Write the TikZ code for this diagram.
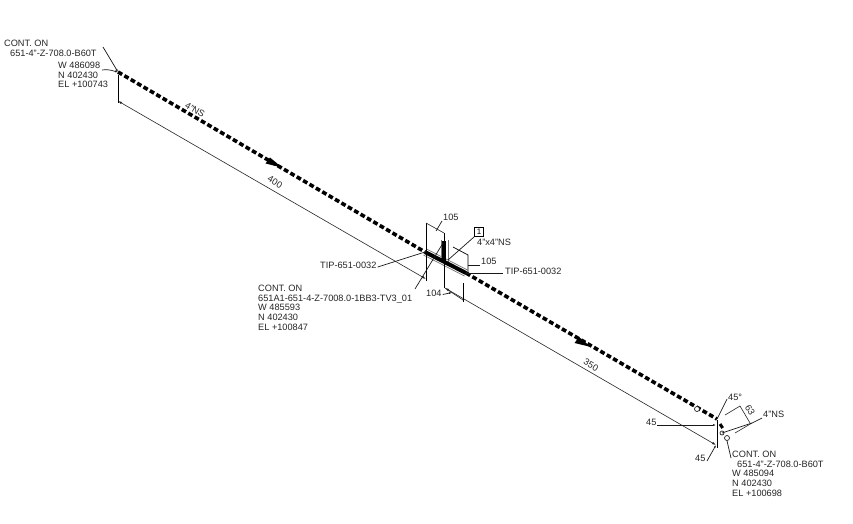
\documentclass[tikz,border=0pt]{standalone}
\usepackage{fontspec}
\setmainfont{Liberation Sans}
\usetikzlibrary{arrows.meta}
\tikzset{
 x=1pt,y=-1pt,
 lbl/.style={inner sep=0pt,font=\fontsize{9.2}{9.6}\selectfont,text=black!85,align=left,anchor=north west},
 dimline/.style={line width=0.6pt,black!85},
 leader/.style={line width=0.7pt,black!90},
 tick/.style={line width=1pt,black},
 pipe/.style={line width=3.6pt,black,dash pattern=on 4.8pt off 2.6pt},
 heavy/.style={line width=4pt,black},
 jacket/.style={line width=0.7pt,black!55},
 flow/.style={fill=black,draw=none},
 fit4/.style={draw=black!85,line width=0.7pt,fill=white,circle,inner sep=0pt,minimum size=5pt},
 tag/.style={draw=black,line width=0.8pt,inner sep=0pt,minimum size=8.5pt,font=\fontsize{8}{8}\selectfont}
}
\begin{document}
\begin{tikzpicture}
\useasboundingbox (0,0) rectangle (853,523);
\fill[white] (0,0) rectangle (853,523);
% key points
\coordinate (start) at (118,72);
\coordinate (teeL) at (425,252);
\coordinate (teeR) at (466,273);
\coordinate (finish) at (717,419);
\coordinate (teeM) at (444,262);
\coordinate (teeT) at (444,241);
% main pipe
\draw[pipe] (start) -- (teeL);
\draw[pipe] (teeR) -- (finish);
\draw[pipe,line width=3pt] (finish) ++(3,5) coordinate (p2) -- ++(4,6) coordinate (p3);
\draw[jacket] (426.5,249) -- (467.5,270);
\draw[jacket] (423.5,255) -- (464.5,276);
\draw[jacket] (441,262) -- (441,240);
\draw[jacket] (448,264) -- (448,240);
\draw[heavy] (teeL) -- (teeR);
\draw[heavy] (teeM) -- (teeT);
% flow arrows
\coordinate (fa1) at (282,167.5);
\coordinate (fa2) at (591,347);
\fill[flow] (fa1) -- ++(-16.5,-4) -- ++(4.5,-6) -- cycle;
\fill[flow] (fa2) -- ++(-16.5,-4) -- ++(4.5,-6) -- cycle;
% dimensions
\coordinate (d1a) at (118,101);
\coordinate (d1b) at (426,279);
\coordinate (d2a) at (445,288);
\coordinate (d2b) at (716,445);
\draw[dimline,{Latex[length=4pt,width=2.5pt]}-{Latex[length=4pt,width=2.5pt]}] (d1a) -- (d1b);
\draw[dimline,{Latex[length=4pt,width=2.5pt]}-{Latex[length=4pt,width=2.5pt]}] (d2a) -- (d2b);
\draw[tick] (118,75) -- (118,103);
\draw[tick] (426,223) -- (426,281);
\draw[tick] (444,233) -- (444,288);
\draw[tick] (463,283) -- (463,302);
\draw[tick] (717,420) -- (717,448);
\draw[dimline] (426,223) -- (444,233);
\draw[dimline] (445,288) -- (463,300);
\draw[tick,line width=.7pt] (453,247) -- (468,255) -- (468,273);
\node[lbl,anchor=west] (n105a) at (443,217) {105};
\node[lbl,anchor=west] (n105b) at (481,261) {105};
\node[lbl,anchor=west] (n104) at (426,293) {104};
\draw[leader] (436,231) -- (442,221);
\draw[leader] (468,265) -- (480,265);
\draw[leader,-{Latex[length=3pt,width=2pt]}] (n104.east) ++(1,1.5) -- (452,292.5);
% labels on lines
\node[lbl,anchor=center,rotate=-30] (ns1) at (195,110) {4"NS};
\node[lbl,anchor=center,rotate=-30] (d400) at (275,182) {400};
\node[lbl,anchor=center,rotate=-30] (d350) at (591,365) {350};
% top-left block
\node[lbl] (tl1) at (4,40) {CONT. ON\\\hspace*{6pt}651-4"-Z-708.0-B60T};
\node[lbl] (tl2) at (58,62) {W 486098\\N 402430\\EL +100743};
\draw[leader,-{Latex[length=3pt,width=2pt]}] (103,47) -- (start);
\draw[leader,-{Latex[length=3pt,width=2pt]}] (102,70) .. controls (110,69) and (113,71) .. (start);
% mid labels
\node[lbl] (ml) at (258,285) {CONT. ON\\651A1-651-4-Z-7008.0-1BB3-TV3\_01\\W 485593\\N 402430\\EL +100847};
\node[lbl,anchor=west] (tipL) at (320,265) {TIP-651-0032};
\node[lbl,anchor=west] (tipR) at (505,271) {TIP-651-0032};
\node[tag] (one) at (479,232) {1};
\node[lbl,anchor=west] (tee) at (477,242) {4"x4"NS};
\draw[leader] (tipL.east) ++(1,2) -- (teeL);
\draw[leader] (teeR) -- (503,273);
\draw[leader] (one.south west) -- (448,260);
\draw[leader] (415,289) -- (443,243);
% lower-right
\node[fit4] (c1) at (697,409) {};
\node[fit4] (c2) at (727,438) {};
\node[fit4,minimum size=4pt] (c3) at (722,433) {};
\node[lbl,anchor=west] (d45a) at (646,422) {45};
\node[lbl,anchor=west] (d45b) at (695,458) {45};
\node[lbl,anchor=west] (deg) at (728,397) {45°};
\node[lbl,anchor=west] (ns2) at (763,414) {4"NS};
\node[lbl,anchor=center,rotate=-60] (d63) at (750,410) {63};
\draw[leader,-{Latex[length=3pt,width=2pt]}] (657,425) -- (716,425);
\draw[leader,-{Latex[length=3pt,width=2pt]}] (707,461) -- (716,445);
\draw[leader] (717,419) -- (727,399);
\draw[leader] (722,433) -- (752,423) -- (762,418);
\draw[dimline] (725,415) -- (740,406) -- (750,423);
\draw[dimline] (735,433) -- (752,423);
\draw[leader] (c2.south) -- (731,458);
\node[lbl] (br) at (732,451) {CONT. ON\\\hspace*{5pt}651-4"-Z-708.0-B60T\\W 485094\\N 402430\\EL +100698};
\end{tikzpicture}
\end{document}
